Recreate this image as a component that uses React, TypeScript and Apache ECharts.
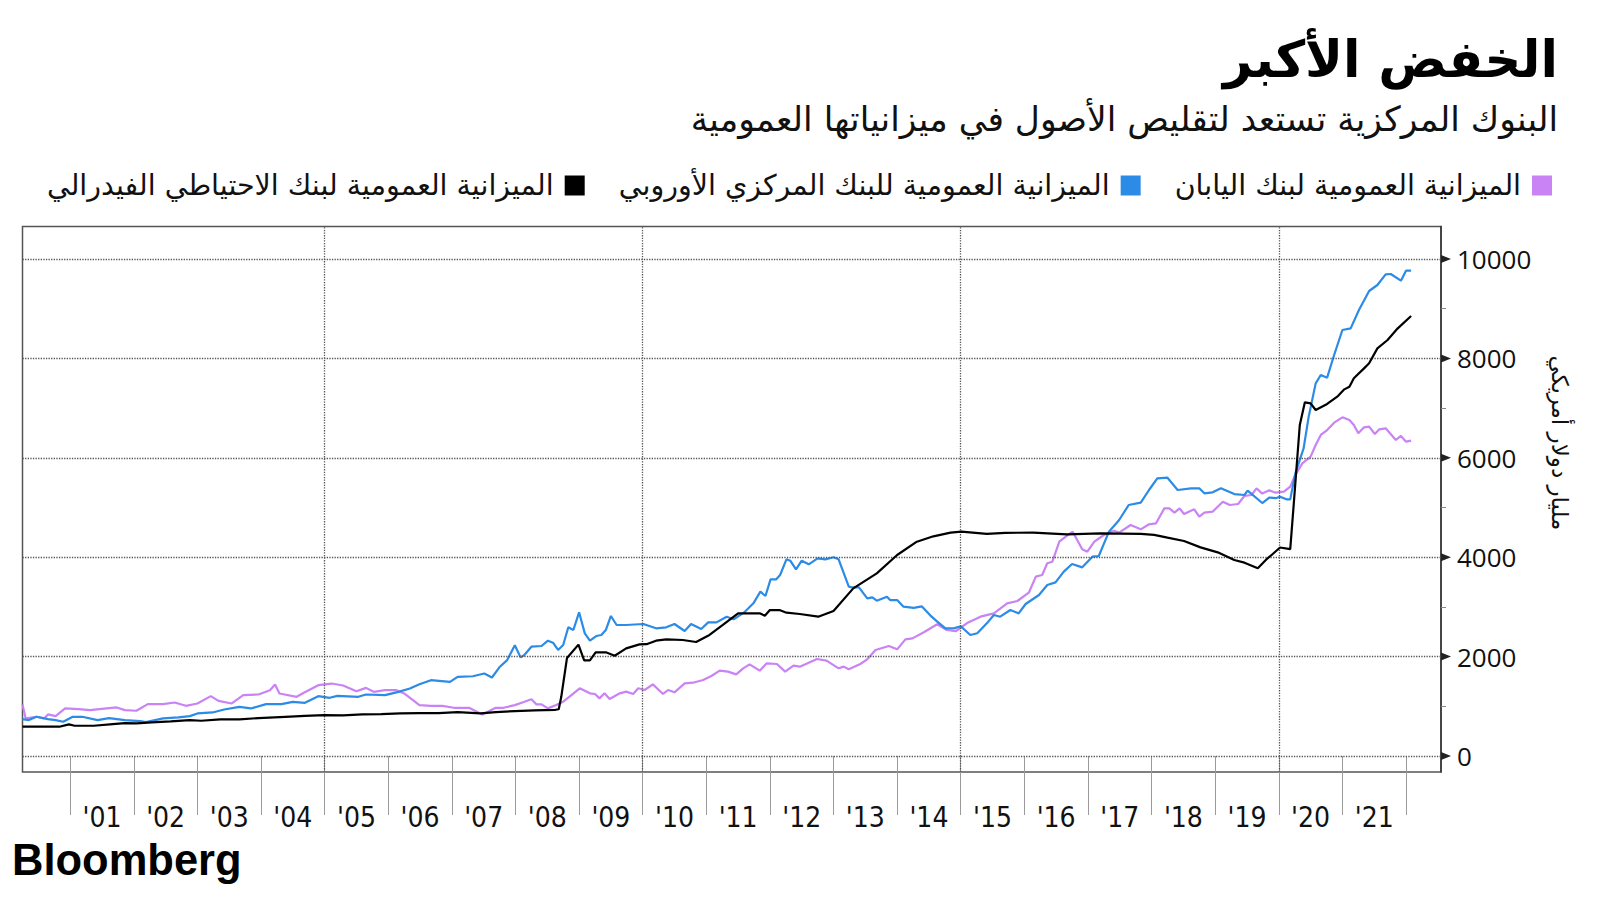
import React, { useEffect, useRef } from "react";
import * as echarts from "echarts";

const TITLE = "الخفض الأكبر";
const SUBTITLE = "البنوك المركزية تستعد لتقليص الأصول في ميزانياتها العمومية";
const Y_NAME = "مليار دولار أمريكي";
const BOJ_NAME = "الميزانية العمومية لبنك اليابان";
const ECB_NAME = "الميزانية العمومية للبنك المركزي الأوروبي";
const FED_NAME = "الميزانية العمومية لبنك الاحتياطي الفيدرالي";

const tickYears = [2001, 2002, 2003, 2004, 2005, 2006, 2007, 2008, 2009, 2010, 2011, 2012, 2013, 2014, 2015, 2016, 2017, 2018, 2019, 2020, 2021, 2022];
const labelYears = [2001.5, 2002.5, 2003.5, 2004.5, 2005.5, 2006.5, 2007.5, 2008.5, 2009.5, 2010.5, 2011.5, 2012.5, 2013.5, 2014.5, 2015.5, 2016.5, 2017.5, 2018.5, 2019.5, 2020.5, 2021.5];
const yearLabels = ["'01", "'02", "'03", "'04", "'05", "'06", "'07", "'08", "'09", "'10", "'11", "'12", "'13", "'14", "'15", "'16", "'17", "'18", "'19", "'20", "'21"];
const xGridYears = [2005, 2010, 2015, 2020];
const yLabelValues = [0, 2000, 4000, 6000, 8000, 10000];
const yMinorTicks = [0, 1000, 2000, 3000, 4000, 5000, 6000, 7000, 8000, 9000, 10000];

const fedData = [
  [2000.25, 589], [2000.5, 589], [2000.83, 589], [2000.98, 635], [2001.07, 609], [2001.37, 609], [2001.67, 642], [2001.86, 662],
  [2002.04, 655], [2002.28, 676], [2002.58, 696], [2002.88, 722], [2003.06, 709], [2003.36, 736], [2003.66, 736], [2003.96, 763],
  [2004.38, 789], [2004.69, 809], [2004.99, 823], [2005.29, 816], [2005.59, 836], [2005.89, 843], [2006.19, 856], [2006.49, 863],
  [2006.79, 863], [2007.09, 883], [2007.45, 856], [2007.69, 883], [2007.99, 903], [2008.3, 916], [2008.63, 930], [2008.68, 940],
  [2008.72, 1191], [2008.81, 1973], [2008.99, 2241], [2009.08, 1926], [2009.17, 1926], [2009.26, 2086], [2009.42, 2086], [2009.56, 2018],
  [2009.74, 2166], [2009.95, 2247], [2010.06, 2250], [2010.21, 2320], [2010.37, 2347], [2010.63, 2334], [2010.84, 2294], [2011.05, 2435],
  [2011.26, 2636], [2011.5, 2871], [2011.84, 2871], [2011.92, 2824], [2012.0, 2937], [2012.15, 2937], [2012.26, 2884], [2012.47, 2857],
  [2012.76, 2803], [2013.0, 2917], [2013.31, 3373], [2013.68, 3675], [2014.0, 4044], [2014.31, 4312], [2014.57, 4420], [2014.84, 4494],
  [2015.01, 4514], [2015.41, 4468], [2015.7, 4490], [2016.14, 4494], [2016.67, 4460], [2017.2, 4480], [2017.83, 4468], [2018.04, 4448],
  [2018.25, 4393], [2018.51, 4326], [2018.77, 4198], [2019.04, 4098], [2019.3, 3944], [2019.46, 3890], [2019.67, 3776], [2019.8, 3950],
  [2019.9, 4060], [2020.02, 4195], [2020.18, 4164], [2020.24, 5151], [2020.33, 6660], [2020.41, 7116], [2020.5, 7096], [2020.58, 6962],
  [2020.76, 7083], [2020.93, 7243], [2021.03, 7377], [2021.11, 7431], [2021.18, 7599], [2021.34, 7800], [2021.42, 7901], [2021.55, 8202],
  [2021.71, 8370], [2021.87, 8605], [2022.08, 8853]
];

const ecbData = [
  [2000.25, 742], [2000.35, 722], [2000.47, 789], [2000.65, 742], [2000.77, 722], [2000.89, 689], [2001.04, 789], [2001.19, 789],
  [2001.43, 722], [2001.61, 763], [2001.86, 722], [2002.1, 702], [2002.19, 682], [2002.46, 756], [2002.7, 776], [2002.88, 803],
  [2003.0, 856], [2003.24, 876], [2003.42, 936], [2003.66, 990], [2003.84, 957], [2004.08, 1043], [2004.32, 1043], [2004.5, 1090],
  [2004.69, 1070], [2004.9, 1204], [2005.08, 1171], [2005.2, 1211], [2005.53, 1191], [2005.65, 1237], [2005.95, 1224], [2006.16, 1291],
  [2006.34, 1358], [2006.49, 1445], [2006.67, 1525], [2006.97, 1492], [2007.09, 1592], [2007.33, 1605], [2007.51, 1659], [2007.63, 1579],
  [2007.75, 1790], [2007.87, 1930], [2007.99, 2230], [2008.08, 1985], [2008.14, 2032], [2008.25, 2199], [2008.41, 2213], [2008.51, 2320],
  [2008.59, 2280], [2008.67, 2133], [2008.75, 2233], [2008.83, 2589], [2008.91, 2535], [2009.0, 2891], [2009.09, 2468], [2009.17, 2320],
  [2009.27, 2414], [2009.35, 2434], [2009.42, 2535], [2009.5, 2817], [2009.59, 2636], [2009.74, 2636], [2010.01, 2656], [2010.21, 2569],
  [2010.37, 2589], [2010.5, 2656], [2010.66, 2515], [2010.76, 2656], [2010.92, 2555], [2011.03, 2689], [2011.16, 2689], [2011.32, 2803],
  [2011.43, 2750], [2011.59, 2884], [2011.74, 3072], [2011.85, 3306], [2011.93, 3219], [2012.01, 3555], [2012.1, 3555], [2012.16, 3642],
  [2012.26, 3957], [2012.32, 3930], [2012.41, 3756], [2012.5, 3930], [2012.61, 3857], [2012.75, 3978], [2012.87, 3957], [2013.0, 3998],
  [2013.08, 3957], [2013.24, 3407], [2013.29, 3393], [2013.4, 3393], [2013.53, 3172], [2013.61, 3192], [2013.68, 3125], [2013.84, 3205],
  [2013.89, 3138], [2014.0, 3138], [2014.1, 3004], [2014.26, 2980], [2014.39, 3010], [2014.52, 2830], [2014.63, 2703], [2014.76, 2569],
  [2014.89, 2569], [2015.0, 2610], [2015.15, 2435], [2015.26, 2470], [2015.41, 2669], [2015.52, 2837], [2015.62, 2803], [2015.78, 2938],
  [2015.91, 2870], [2016.02, 3058], [2016.23, 3239], [2016.36, 3441], [2016.49, 3494], [2016.62, 3709], [2016.75, 3863], [2016.91, 3796],
  [2017.07, 4010], [2017.17, 4024], [2017.33, 4514], [2017.49, 4748], [2017.64, 5050], [2017.83, 5097], [2017.96, 5352], [2018.09, 5587],
  [2018.25, 5600], [2018.41, 5352], [2018.62, 5386], [2018.75, 5386], [2018.83, 5285], [2018.96, 5305], [2019.09, 5386], [2019.3, 5271],
  [2019.46, 5251], [2019.51, 5338], [2019.74, 5090], [2019.85, 5200], [2019.96, 5190], [2020.02, 5218], [2020.12, 5164], [2020.18, 5164],
  [2020.26, 5687], [2020.39, 6191], [2020.47, 6827], [2020.58, 7498], [2020.66, 7666], [2020.76, 7612], [2020.87, 8068], [2021.0, 8571],
  [2021.13, 8605], [2021.26, 8974], [2021.42, 9356], [2021.55, 9477], [2021.68, 9691], [2021.76, 9698], [2021.92, 9564], [2022.0, 9765],
  [2022.08, 9765]
];

const bojData = [
  [2000.25, 1037], [2000.3, 756], [2000.47, 789], [2000.59, 756], [2000.65, 836], [2000.77, 803], [2000.92, 957], [2001.13, 943],
  [2001.31, 923], [2001.46, 943], [2001.73, 977], [2001.86, 923], [2002.04, 910], [2002.22, 1043], [2002.46, 1043], [2002.64, 1077],
  [2002.82, 1010], [2003.0, 1057], [2003.21, 1204], [2003.33, 1110], [2003.54, 1057], [2003.72, 1224], [2003.96, 1237], [2004.14, 1324],
  [2004.22, 1438], [2004.29, 1258], [2004.56, 1191], [2004.68, 1278], [2004.9, 1425], [2005.11, 1458], [2005.29, 1418], [2005.5, 1304],
  [2005.65, 1371], [2005.77, 1291], [2005.95, 1324], [2006.13, 1324], [2006.25, 1258], [2006.49, 1023], [2006.67, 1010], [2006.85, 1010],
  [2007.03, 970], [2007.27, 970], [2007.48, 836], [2007.69, 970], [2007.81, 970], [2007.99, 1023], [2008.12, 1080], [2008.25, 1140],
  [2008.33, 1039], [2008.41, 1039], [2008.51, 958], [2008.64, 1026], [2008.75, 1093], [2008.85, 1194], [2009.01, 1362], [2009.17, 1261],
  [2009.25, 1248], [2009.32, 1160], [2009.4, 1261], [2009.48, 1147], [2009.64, 1261], [2009.74, 1295], [2009.85, 1248], [2009.93, 1362],
  [2010.03, 1328], [2010.16, 1442], [2010.32, 1248], [2010.4, 1328], [2010.5, 1281], [2010.66, 1462], [2010.79, 1475], [2010.95, 1529],
  [2011.08, 1610], [2011.21, 1717], [2011.34, 1697], [2011.47, 1643], [2011.58, 1764], [2011.68, 1844], [2011.84, 1717], [2011.95, 1865],
  [2012.11, 1851], [2012.24, 1697], [2012.37, 1818], [2012.47, 1798], [2012.74, 1952], [2012.89, 1918], [2013.08, 1764], [2013.16, 1798],
  [2013.24, 1744], [2013.42, 1851], [2013.53, 1945], [2013.66, 2133], [2013.87, 2213], [2014.0, 2146], [2014.13, 2347], [2014.24, 2367],
  [2014.42, 2490], [2014.63, 2650], [2014.78, 2535], [2014.92, 2510], [2015.1, 2675], [2015.31, 2803], [2015.52, 2870], [2015.73, 3072],
  [2015.89, 3119], [2016.07, 3286], [2016.18, 3608], [2016.28, 3642], [2016.36, 3877], [2016.44, 3910], [2016.55, 4312], [2016.65, 4413],
  [2016.76, 4514], [2016.91, 4158], [2016.99, 4111], [2017.1, 4312], [2017.25, 4447], [2017.41, 4534], [2017.49, 4494], [2017.67, 4648],
  [2017.83, 4561], [2017.96, 4662], [2018.07, 4682], [2018.2, 4983], [2018.28, 4983], [2018.36, 4896], [2018.44, 4983], [2018.51, 4869],
  [2018.67, 4963], [2018.75, 4815], [2018.83, 4896], [2018.96, 4916], [2019.12, 5117], [2019.23, 5050], [2019.36, 5070], [2019.46, 5231],
  [2019.57, 5251], [2019.65, 5386], [2019.74, 5280], [2019.85, 5345], [2019.95, 5298], [2020.08, 5318], [2020.18, 5419], [2020.26, 5654],
  [2020.37, 5889], [2020.5, 6023], [2020.58, 6257], [2020.66, 6459], [2020.76, 6559], [2020.87, 6707], [2021.0, 6814], [2021.11, 6761],
  [2021.18, 6660], [2021.25, 6492], [2021.34, 6613], [2021.42, 6626], [2021.51, 6479], [2021.58, 6573], [2021.68, 6593], [2021.84, 6358],
  [2021.92, 6439], [2022.0, 6325], [2022.08, 6345]
];

const X_MIN = 2000.25;
const X_MAX = 2022.55;
const Y_MIN = -322;
const Y_MAX = 10654;

const PINK = "#c983f4";
const BLUE = "#2b8be6";
const BLACK = "#000000";
const AR_FONT = "'DejaVu Sans', sans-serif";

export default function App() {
  const ref = useRef<HTMLDivElement>(null);

  useEffect(() => {
    if (!ref.current) return;
    const chart = echarts.init(ref.current, null, { renderer: "svg" });
    const option: any = {
      animation: false,
      backgroundColor: "#ffffff",
      grid: {
        left: 22.5,
        right: 159,
        top: 226.5,
        bottom: 128,
        show: true,
        borderColor: "#555",
        borderWidth: 1.5,
        backgroundColor: "transparent",
      },
      legend: {
        data: [FED_NAME, ECB_NAME, BOJ_NAME],
        right: 43,
        top: 166,
        align: "right",
        icon: "rect",
        itemWidth: 20,
        itemHeight: 20,
        itemGap: 34,
        textStyle: { fontFamily: AR_FONT, fontSize: 28.5, lineHeight: 20, color: "#111", padding: [0, 6, 0, 0] },
      },
      graphic: [
        {
          type: "text",
          x: 1558,
          y: 59,
          style: {
            text: TITLE,
            textAlign: "right",
            textVerticalAlign: "middle",
            font: "bold 51px 'DejaVu Sans', sans-serif",
            fill: "#000",
          },
        },
        {
          type: "text",
          x: 1558,
          y: 119,
          style: {
            text: SUBTITLE,
            textAlign: "right",
            textVerticalAlign: "middle",
            font: "34.5px 'DejaVu Sans', sans-serif",
            fill: "#111",
          },
        },
        {
          type: "text",
          x: 1560,
          y: 443,
          rotation: -Math.PI / 2,
          style: {
            text: Y_NAME,
            textAlign: "center",
            textVerticalAlign: "middle",
            font: "23px 'DejaVu Sans', sans-serif",
            fill: "#111",
          },
        },
        {
          type: "text",
          x: 12,
          y: 860,
          style: {
            text: "Bloomberg",
            textAlign: "left",
            textVerticalAlign: "middle",
            font: "900 43.5px 'Liberation Sans', Arial, sans-serif",
            fill: "#000",
          },
        },
      ],
      xAxis: {
        type: "value",
        min: X_MIN,
        max: X_MAX,
        position: "bottom",
        axisLine: { show: false },
        splitLine: { show: false },
        axisTick: {
          show: true,
          customValues: tickYears,
          length: 59,
          lineStyle: { color: "#9a9a9a", width: 1 },
        },
        axisLabel: {
          customValues: labelYears,
          formatter: (v: number) => yearLabels[Math.floor(v) - 2001] ?? "",
          margin: 31,
          fontSize: 28,
          color: "#111",
          fontFamily: "'DejaVu Sans Condensed', 'Liberation Sans Narrow', 'DejaVu Sans', sans-serif",
        },
      },
      yAxis: {
        type: "value",
        position: "right",
        min: Y_MIN,
        max: Y_MAX,
        axisLine: { show: true, lineStyle: { color: "#333", width: 1.5 } },
        splitLine: { show: false },
        axisTick: {
          show: true,
          customValues: yMinorTicks,
          length: 5,
          lineStyle: { color: "#888", width: 1 },
        },
        axisLabel: {
          customValues: yLabelValues,
          formatter: (v: number) => String(Math.round(v)),
          margin: 16,
          fontSize: 26,
          color: "#111",
          fontFamily: "'Open Sans', sans-serif",
        },
      },
      series: [
        {
          type: "line",
          name: "_grid",
          data: [],
          silent: true,
          z: 1,
          markLine: {
            silent: true,
            symbol: "none",
            label: { show: false },
            lineStyle: { color: "#555", type: "dotted", width: 1.3 },
            data: [
              ...yLabelValues.map((v) => ({ yAxis: v })),
              ...xGridYears.map((v) => ({ xAxis: v })),
            ],
          },
          markPoint: {
            silent: true,
            symbol: "triangle",
            symbolSize: [8, 10],
            symbolRotate: -90,
            symbolOffset: [5, 0],
            itemStyle: { color: "#222" },
            label: { show: false },
            data: yLabelValues.map((v) => ({ coord: [X_MAX, v] })),
          },
        },
        {
          type: "line",
          name: BOJ_NAME,
          data: bojData,
          showSymbol: false,
          symbol: "none",
          color: PINK,
          lineStyle: { color: PINK, width: 2.2 },
          z: 3,
        },
        {
          type: "line",
          name: ECB_NAME,
          data: ecbData,
          showSymbol: false,
          symbol: "none",
          color: BLUE,
          lineStyle: { color: BLUE, width: 2.2 },
          z: 4,
        },
        {
          type: "line",
          name: FED_NAME,
          data: fedData,
          showSymbol: false,
          symbol: "none",
          color: BLACK,
          lineStyle: { color: BLACK, width: 2.2 },
          z: 5,
        },
      ],
    };
    chart.setOption(option);
    return () => chart.dispose();
  }, []);

  return (
    <div
      ref={ref}
      style={{ position: "absolute", left: 0, top: 0, width: 1600, height: 900, background: "#fff" }}
    />
  );
}
